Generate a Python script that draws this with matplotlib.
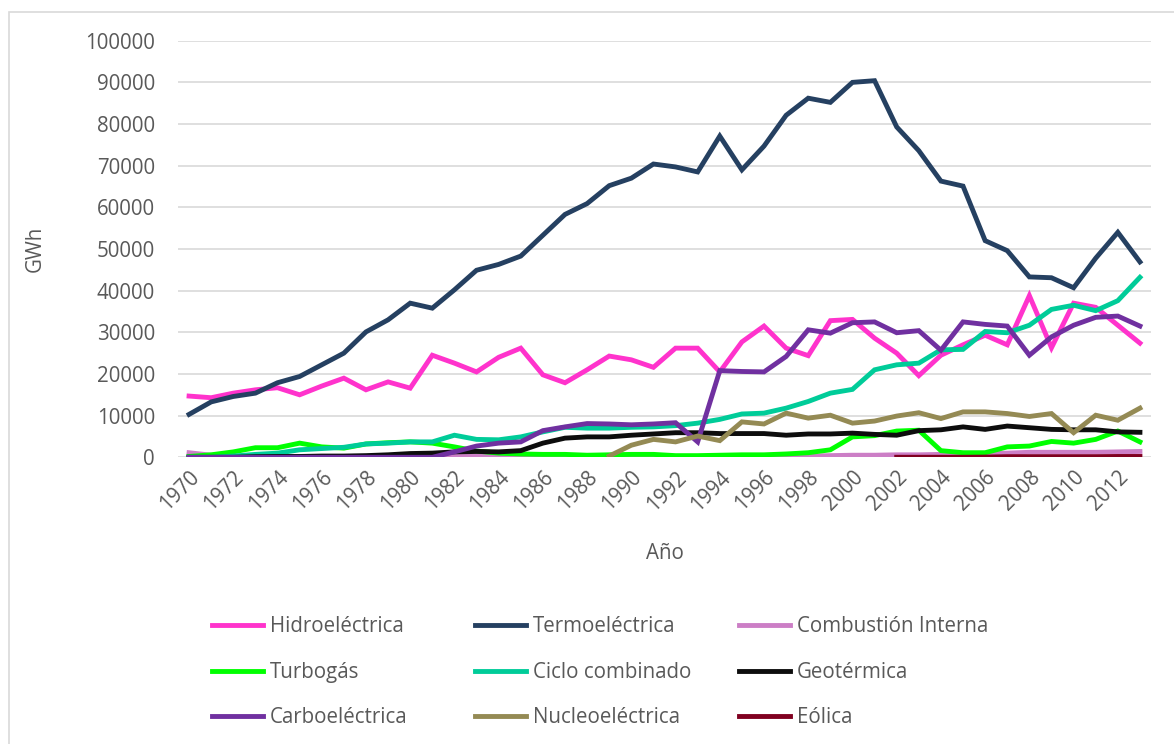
import matplotlib.pyplot as plt
import numpy as np

# Generacion de electricidad por tecnologia (GWh)
anios = list(range(1970, 2014))

hidro = [14700, 14300, 15400, 16200, 16700, 15000, 17100, 19000, 16200, 18100,
         16600, 24500, 22600, 20500, 24000, 26200, 19800, 17900, 21000, 24300,
         23400, 21600, 26200, 26200, 20500, 27700, 31500, 26200, 24400, 32800,
         33100, 28600, 25000, 19600, 24500, 27000, 29300, 27000, 38800, 26300,
         37000, 36000, 31700, 27400]
termo = [10300, 13300, 14600, 15400, 17900, 19400, 22200, 25000, 30100, 33000,
         37000, 35800, 40200, 44900, 46300, 48300, 53300, 58300, 60900, 65200,
         67000, 70400, 69700, 68500, 77100, 69000, 74700, 82100, 86200, 85200,
         90000, 90400, 79300, 73600, 66300, 65100, 52000, 49600, 43300, 43100,
         40700, 47800, 54000, 46900]
combustion = [1100, 500, 200, 200, 200, 200, 200, 200, 200, 200,
              200, 200, 200, 200, 200, 200, 200, 200, 200, 200,
              200, 200, 200, 200, 200, 300, 300, 300, 300, 400,
              500, 500, 600, 600, 700, 800, 900, 1000, 1200, 1200,
              1200, 1200, 1300, 1400]
turbogas = [200, 600, 1300, 2300, 2300, 3400, 2500, 2200, 3200, 3500,
            3700, 3400, 2500, 1500, 1000, 800, 700, 700, 500, 600,
            700, 700, 400, 400, 500, 600, 600, 800, 1100, 1800,
            4900, 5200, 6300, 6500, 1600, 1100, 1100, 2500, 2700, 3800,
            3400, 4300, 6300, 3700]
ciclo = [0, 0, 300, 700, 1000, 1800, 2100, 2400, 3200, 3400,
         3700, 3700, 5300, 4300, 4200, 4900, 6100, 7200, 7000, 7000,
         7200, 7300, 7600, 8200, 9100, 10400, 10600, 11800, 13400, 15400,
         16300, 21000, 22200, 22600, 25800, 25900, 30200, 29900, 31700, 35500,
         36500, 35200, 37600, 43200]
geo = [0, 0, 0, 150, 200, 200, 300, 300, 400, 600,
       900, 1000, 1300, 1400, 1300, 1600, 3400, 4600, 4900, 4900,
       5300, 5600, 5900, 5900, 5700, 5700, 5700, 5300, 5600, 5600,
       5800, 5500, 5300, 6400, 6600, 7300, 6700, 7500, 7100, 6700,
       6600, 6600, 6100, 6000]
carbo = [0, 0, 0, 0, 0, 0, 0, 0, 0, 0,
         0, 0, 1300, 2700, 3400, 3700, 6400, 7300, 8100, 8000,
         7800, 8000, 8300, 3700, 20800, 20600, 20500, 24200, 30600, 29800,
         32300, 32500, 29900, 30400, 25700, 32500, 31900, 31500, 24500, 28900,
         31700, 33600, 33900, 31500]
nucleo = [None] * 19 + [300, 2900, 4300, 3700, 5100, 4000, 8500, 8000, 10600, 9400,
                        10100, 8200, 8700, 9900, 10700, 9300, 10900, 10900, 10500, 9800,
                        10500, 5900, 10100, 8900, 11800]
eolica = [None] * 32 + [10, 10, 10, 10, 50, 150, 150, 150, 150, 150, 200, 200]

series = [
    ('Hidroeléctrica', hidro, '#FF33CC'),
    ('Termoeléctrica', termo, '#254061'),
    ('Combustión Interna', combustion, '#CC7EC6'),
    ('Turbogás', turbogas, '#00FF00'),
    ('Ciclo combinado', ciclo, '#00CC99'),
    ('Geotérmica', geo, '#0D0D0D'),
    ('Carboeléctrica', carbo, '#7030A0'),
    ('Nucleoeléctrica', nucleo, '#948A54'),
    ('Eólica', eolica, '#800020'),
]

plt.rcParams['font.family'] = ['Open Sans', 'DejaVu Sans']
gris = '#595959'
fs = 14.8

fig = plt.figure(figsize=(11.74, 7.44), dpi=100)
ax = fig.add_axes([178/1174, 1-457.3/744, 973/1174, 416.6/744])

x = np.arange(len(anios))
lineas = {}
for nombre, datos, color in series:
    y = np.array([np.nan if v is None else v for v in datos], dtype=float)
    l, = ax.plot(x, y, color=color, lw=3.5, solid_joinstyle='miter', label=nombre)
    lineas[nombre] = l

ax.set_xlim(-0.5, len(anios) - 0.5)
ax.set_ylim(0, 100000)
ax.set_yticks(np.arange(0, 100001, 10000))
ax.yaxis.grid(True, color='#D9D9D9', lw=1.2)
ax.set_axisbelow(True)
for s in ax.spines.values():
    s.set_visible(False)
ax.tick_params(length=0, labelsize=fs, labelcolor=gris)
ax.tick_params(axis='y', pad=16.5)

ax.set_xticks(x[::2])
ax.set_xticklabels([str(a) for a in anios[::2]], rotation=45, ha='right',
                   va='top', rotation_mode='anchor')
ax.tick_params(axis='x', pad=7)

ax.set_ylabel('GWh', fontsize=fs, color=gris)
ax.yaxis.set_label_coords(-0.1357, 0.5)
ax.set_xlabel('Año', fontsize=fs, color=gris)
ax.xaxis.set_label_coords(0.5, -0.206)

# borde del area del grafico
borde = plt.Rectangle((9/1174, -0.1), 1.2, 1 - 12/744 + 0.1, transform=fig.transFigure,
                      fill=False, edgecolor='#D9D9D9', lw=1.2)
fig.patches.append(borde)

# leyenda en tres columnas
columnas = [
    (['Hidroeléctrica', 'Turbogás', 'Carboeléctrica'], 193.5),
    (['Termoeléctrica', 'Ciclo combinado', 'Nucleoeléctrica'], 456.5),
    (['Combustión Interna', 'Geotérmica', 'Eólica'], 720.5),
]
for nombres, xpos in columnas:
    fig.legend([lineas[n] for n in nombres], nombres, loc='upper left',
               bbox_to_anchor=(xpos/1174, 1 - 597.6/744), frameon=False,
               fontsize=fs, labelcolor=gris, handlelength=2.5,
               handletextpad=0.3, labelspacing=1.2)

fig.savefig('out.png', dpi=100)
